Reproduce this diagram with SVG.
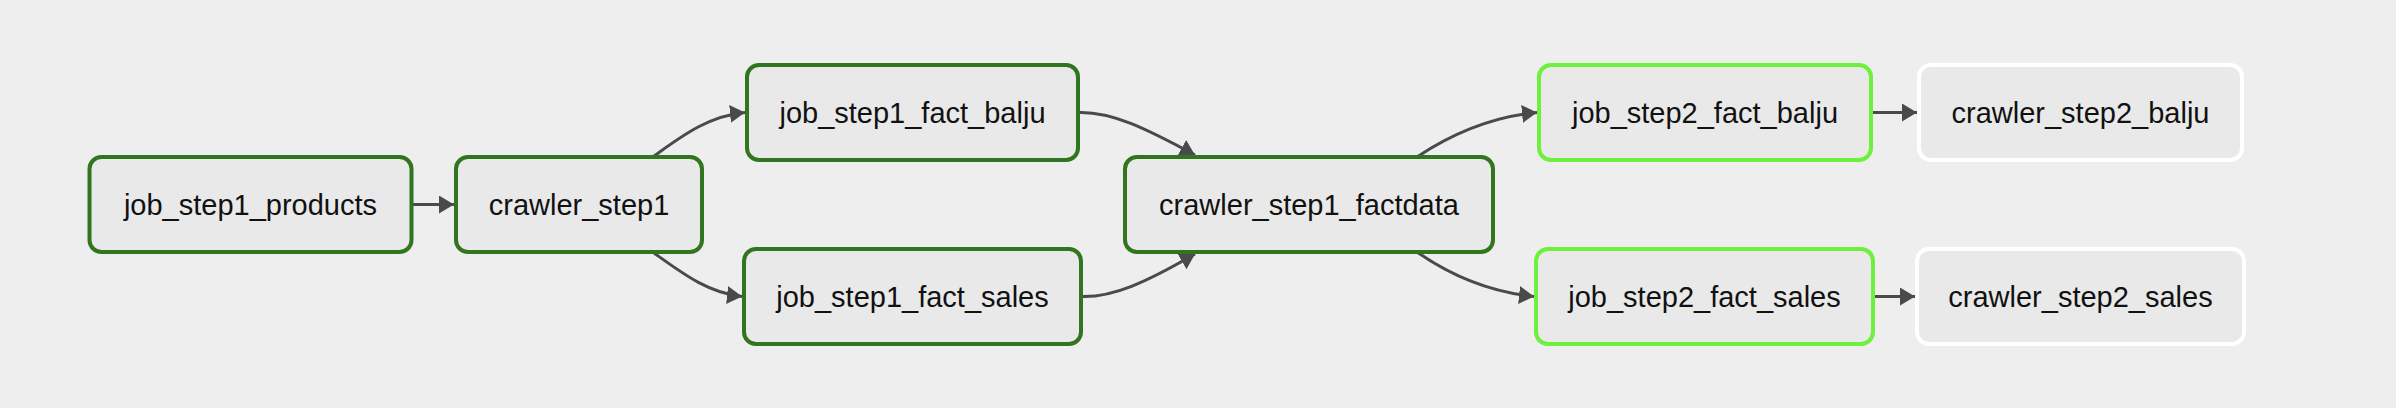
<svg xmlns="http://www.w3.org/2000/svg" width="2396" height="408" viewBox="0 0 2396 408">
  <style>
    .node rect { fill: #e9e9e9; stroke-width: 4; }
    .ok rect { stroke: #31751f; }
    .run rect { stroke: #6ef03c; }
    .none rect { stroke: #ffffff; }
    .node text { font-family: "Liberation Sans", Arial, Helvetica, sans-serif; font-size: 29px; fill: #111111; text-anchor: middle; }
    .edges path { fill: none; stroke: #4a4a4a; stroke-width: 3; }
  </style>
  <defs>
    <marker id="arrow" markerUnits="userSpaceOnUse" markerWidth="16" markerHeight="20" refX="15" refY="9" orient="auto">
      <path d="M0,0 L15,9 L0,18 Z" fill="#4a4a4a"/>
    </marker>
  </defs>
  <rect x="0" y="0" width="2396" height="408" fill="#eeeeee"/>
  <g class="edges">
    <path d="M413,204.5 L454,204.5" marker-end="url(#arrow)"/>
    <path d="M654,156 C682,136 708,116 745,112.5" marker-end="url(#arrow)"/>
    <path d="M654,253 C682,273 708,293 742,296.5" marker-end="url(#arrow)"/>
    <path d="M1080,112.5 C1112,112 1145,128 1195,155" marker-end="url(#arrow)"/>
    <path d="M1083,296.5 C1113,297 1145,283 1195,254" marker-end="url(#arrow)"/>
    <path d="M1417,157 C1450,135 1490,117 1537,112.5" marker-end="url(#arrow)"/>
    <path d="M1417,252 C1450,275 1490,292 1534,296.5" marker-end="url(#arrow)"/>
    <path d="M1873,112.5 L1917,112.5" marker-end="url(#arrow)"/>
    <path d="M1875,296.5 L1915,296.5" marker-end="url(#arrow)"/>
  </g>
  <g id="job_step1_products" class="node ok">
    <rect x="89.5" y="157" width="322" height="95" rx="12"/>
    <text x="250.5" y="215">job_step1_products</text>
  </g>
  <g id="crawler_step1" class="node ok">
    <rect x="456" y="157" width="246" height="95" rx="12"/>
    <text x="579" y="215">crawler_step1</text>
  </g>
  <g id="job_step1_fact_balju" class="node ok">
    <rect x="747" y="65" width="331" height="95" rx="12"/>
    <text x="912.5" y="123">job_step1_fact_balju</text>
  </g>
  <g id="job_step1_fact_sales" class="node ok">
    <rect x="744" y="249" width="337" height="95" rx="12"/>
    <text x="912.5" y="307">job_step1_fact_sales</text>
  </g>
  <g id="crawler_step1_factdata" class="node ok">
    <rect x="1125" y="157" width="368" height="95" rx="12"/>
    <text x="1309" y="215">crawler_step1_factdata</text>
  </g>
  <g id="job_step2_fact_balju" class="node run">
    <rect x="1539" y="65" width="332" height="95" rx="12"/>
    <text x="1705" y="123">job_step2_fact_balju</text>
  </g>
  <g id="crawler_step2_balju" class="node none">
    <rect x="1919" y="65" width="323" height="95" rx="12"/>
    <text x="2080.5" y="123">crawler_step2_balju</text>
  </g>
  <g id="job_step2_fact_sales" class="node run">
    <rect x="1536" y="249" width="337" height="95" rx="12"/>
    <text x="1704.5" y="307">job_step2_fact_sales</text>
  </g>
  <g id="crawler_step2_sales" class="node none">
    <rect x="1917" y="249" width="327" height="95" rx="12"/>
    <text x="2080.5" y="307">crawler_step2_sales</text>
  </g>
</svg>
